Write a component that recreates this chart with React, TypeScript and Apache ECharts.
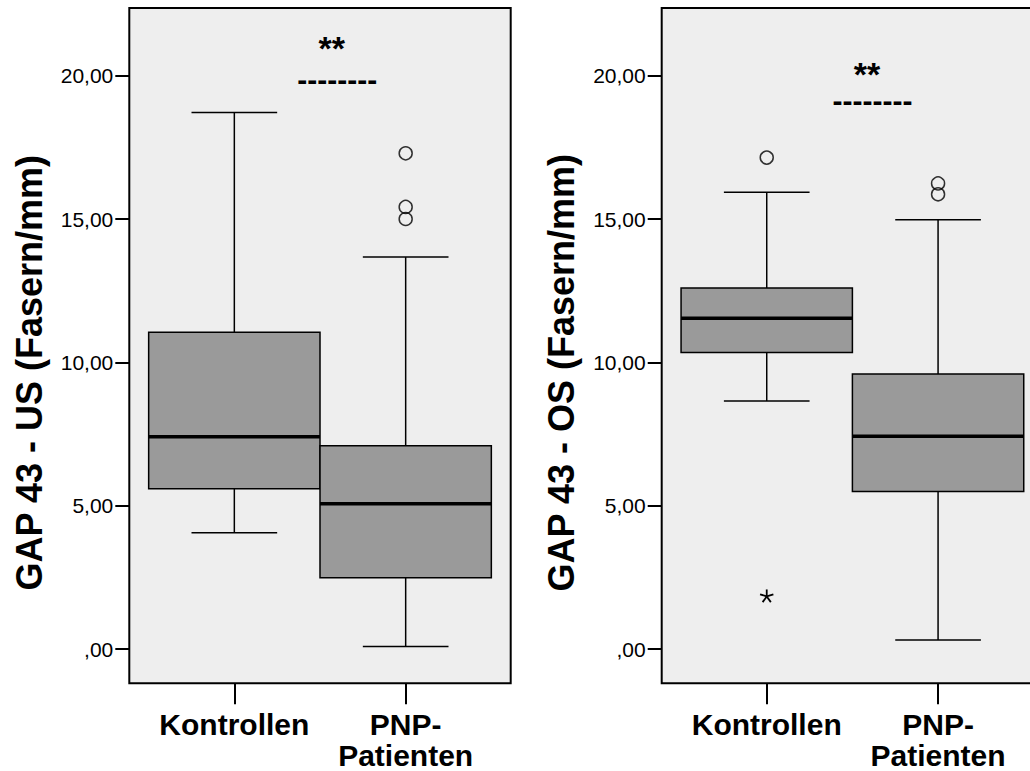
import React, { useEffect, useRef } from 'react';
import * as echarts from 'echarts';

// ---------- data ----------
const categories = ['Kontrollen', 'PNP-\nPatienten'];
const categoryPositions = [1, 2];
const yTicks = [0, 5, 10, 15, 20];
const yMin = -1.19;
const yMax = 22.37;
const xMin = 0.387;
const xMax = 2.613;

// [lower whisker, Q1, median, Q3, upper whisker]
const usBoxes = [
  [4.06, 5.6, 7.41, 11.06, 18.72],
  [0.09, 2.49, 5.07, 7.1, 13.68],
];
const usOutliers = [
  [2, 17.3],
  [2, 15.43],
  [2, 15.01],
];
const usTitle = 'GAP 43 - US (Fasern/mm)';

const osBoxes = [
  [8.66, 10.35, 11.55, 12.6, 15.94],
  [0.32, 5.5, 7.43, 9.6, 14.98],
];
const osOutliers = [
  [1, 17.15],
  [2, 16.25],
  [2, 15.87],
];
const osExtremes = [[1, 1.84]];
const osTitle = 'GAP 43 - OS (Fasern/mm)';

const sigStars = '**';
const sigDashes = '--------';

const FONT = 'Liberation Sans, Arial, Helvetica, sans-serif';

const renderBox = (params: any, api: any) => {
  const x = api.value(0);
  const lo = api.coord([x, api.value(1)]);
  const q1 = api.coord([x, api.value(2)]);
  const med = api.coord([x, api.value(3)]);
  const q3 = api.coord([x, api.value(4)]);
  const hi = api.coord([x, api.value(5)]);
  const unit = api.size([1, 0])[0];
  const cx = lo[0];
  const half = unit / 2;
  const cap = unit / 4;
  const thin = { stroke: '#000', lineWidth: 1.5 };
  return {
    type: 'group',
    children: [
      { type: 'line', shape: { x1: cx, y1: hi[1], x2: cx, y2: q3[1] }, style: thin },
      { type: 'line', shape: { x1: cx, y1: q1[1], x2: cx, y2: lo[1] }, style: thin },
      { type: 'line', shape: { x1: cx - cap, y1: hi[1], x2: cx + cap, y2: hi[1] }, style: thin },
      { type: 'line', shape: { x1: cx - cap, y1: lo[1], x2: cx + cap, y2: lo[1] }, style: thin },
      {
        type: 'rect',
        shape: { x: cx - half, y: q3[1], width: unit, height: q1[1] - q3[1] },
        style: { fill: '#9a9a9a', stroke: '#000', lineWidth: 1.5 },
      },
      { type: 'line', shape: { x1: cx - half, y1: med[1], x2: cx + half, y2: med[1] }, style: { stroke: '#000', lineWidth: 3.5 } },
    ],
  };
};

const renderStar = (params: any, api: any) => {
  const p = api.coord([api.value(0), api.value(1)]);
  const r = 7;
  const children: any[] = [];
  for (let i = 0; i < 5; i++) {
    const a = -Math.PI / 2 + (i * 2 * Math.PI) / 5;
    children.push({
      type: 'line',
      shape: { x1: p[0], y1: p[1], x2: p[0] + r * Math.cos(a), y2: p[1] + r * Math.sin(a) },
      style: { stroke: '#000', lineWidth: 1.8 },
    });
  }
  return { type: 'group', children };
};

const fmtY = (v: number) => {
  if (v === 0) return ',00';
  return v.toFixed(2).replace('.', ',');
};

const makeX = (gridIndex: number) => ({
  type: 'value',
  gridIndex,
  min: xMin,
  max: xMax,
  axisLine: { show: false, onZero: false },
  splitLine: { show: false },
  axisTick: { show: true, customValues: categoryPositions, length: 21, inside: false, lineStyle: { color: '#000', width: 2 } },
  axisLabel: {
    show: true,
    customValues: categoryPositions,
    formatter: (v: number) => categories[categoryPositions.indexOf(v)] ?? '',
    fontFamily: FONT,
    fontSize: 30,
    fontWeight: 'bold',
    lineHeight: 31,
    color: '#000',
    margin: 26,
  },
});

const makeY = (gridIndex: number, name: string) => ({
  type: 'value',
  gridIndex,
  min: yMin,
  max: yMax,
  name,
  nameLocation: 'middle',
  nameRotate: 90,
  nameGap: 82,
  nameTextStyle: {
    fontFamily: FONT,
    fontSize: 36,
    fontWeight: 'bold',
    color: '#000',
    padding: [0, 54, 0, 0],
  },
  axisLine: { show: false, onZero: false },
  splitLine: { show: false },
  axisTick: { show: true, customValues: yTicks, length: 14, inside: false, lineStyle: { color: '#000', width: 2 } },
  axisLabel: {
    show: true,
    customValues: yTicks,
    formatter: fmtY,
    fontFamily: FONT,
    fontSize: 21,
    fontWeight: 'normal',
    color: '#000',
    margin: 16,
  },
});

const outlierSeries = (idx: number, data: number[][]) => ({
  type: 'scatter',
  xAxisIndex: idx,
  yAxisIndex: idx,
  data,
  symbol: 'circle',
  symbolSize: 13,
  itemStyle: { color: 'rgba(0,0,0,0)', borderColor: '#000', borderWidth: 1.5 },
  z: 5,
});

const sigStyle = (lineHeight: number) => ({
  text: `{s|${sigStars}}\n{d|${sigDashes}}`,
  align: 'center',
  verticalAlign: 'middle',
  fill: '#000',
  rich: {
    s: { fontFamily: FONT, fontWeight: 'bold', fontSize: 34, lineHeight, padding: [0, 11, 0, 0], fill: '#000' },
    d: { fontFamily: FONT, fontWeight: 'bold', fontSize: 30, lineHeight, fill: '#000' },
  },
});

export default function App() {
  const ref = useRef<HTMLDivElement>(null);
  useEffect(() => {
    if (!ref.current) return;
    const chart = echarts.init(ref.current, undefined, { renderer: 'svg' });
    chart.setOption({
      animation: false,
      backgroundColor: '#ffffff',
      grid: [
        { left: 129.3, top: 8, width: 381.4, height: 675.3, show: true, backgroundColor: '#eeeeee', borderColor: '#000', borderWidth: 2, outerBoundsMode: 'none', containLabel: false },
        { left: 661.7, top: 8, width: 381.4, height: 675.3, show: true, backgroundColor: '#eeeeee', borderColor: '#000', borderWidth: 2, outerBoundsMode: 'none', containLabel: false },
      ],
      xAxis: [makeX(0), makeX(1)],
      yAxis: [makeY(0, usTitle), makeY(1, osTitle)],
      series: [
        {
          type: 'custom',
          xAxisIndex: 0,
          yAxisIndex: 0,
          renderItem: renderBox,
          encode: { x: 0, y: [1, 2, 3, 4, 5] },
          data: usBoxes.map((b, i) => [categoryPositions[i], ...b]),
          z: 3,
        },
        outlierSeries(0, usOutliers),
        {
          type: 'custom',
          xAxisIndex: 1,
          yAxisIndex: 1,
          renderItem: renderBox,
          encode: { x: 0, y: [1, 2, 3, 4, 5] },
          data: osBoxes.map((b, i) => [categoryPositions[i], ...b]),
          z: 3,
        },
        outlierSeries(1, osOutliers),
        {
          type: 'custom',
          xAxisIndex: 1,
          yAxisIndex: 1,
          renderItem: renderStar,
          encode: { x: 0, y: 1 },
          data: osExtremes,
          z: 5,
        },
      ],
      graphic: [
        { type: 'text', x: 337.2, y: 64, style: sigStyle(31.5), z: 10 },
        { type: 'text', x: 872.5, y: 87.6, style: sigStyle(26.3), z: 10 },
      ],
    });
    return () => chart.dispose();
  }, []);
  return (
    <div
      ref={ref}
      style={{ position: 'absolute', left: 0, top: 0, width: 1030, height: 771, overflow: 'hidden' }}
    />
  );
}
